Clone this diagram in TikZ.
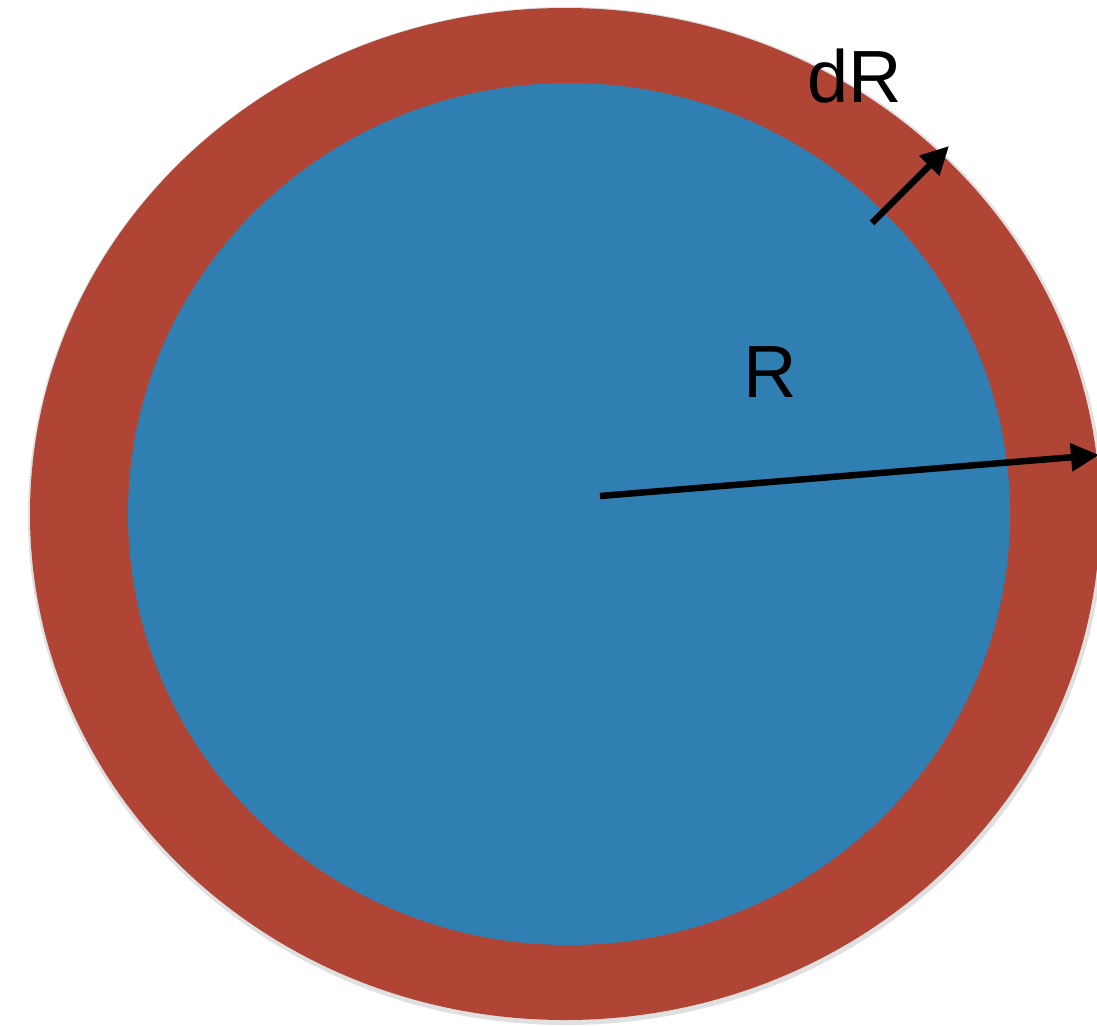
\documentclass[tikz,border=0pt]{standalone}
\usepackage{fontspec}
\setmainfont{Liberation Sans}
\usepackage{xcolor}
\usetikzlibrary{arrows.meta}

\definecolor{shellred}{RGB}{176,69,53}
\definecolor{coreblue}{RGB}{48,127,179}

\begin{document}
\begin{tikzpicture}[
    x=1pt, y=-1pt,
    shell/.style={fill=shellred, draw=none},
    core/.style={fill=coreblue, draw=none},
    arrow/.style={-{Triangle[length=28pt, width=27pt]}, line width=6.5pt, black},
    label/.style={font=\fontsize{74}{80}\selectfont, inner sep=0pt}
]
\useasboundingbox (0,0) rectangle (1097,1025);

% Kugelschale und Kern
\begin{scope}
  \clip (0,0) rectangle (1097,1025);
  \fill[black!35, opacity=0.35] (566,516) ellipse [x radius=538, y radius=509];
  \fill[shell] (565,514) ellipse [x radius=535, y radius=506];
\end{scope}
\fill[core] (569,514) ellipse [x radius=441, y radius=431];

% Punkte
\coordinate (centre) at (600,496);
\coordinate (rim) at (1099,455);
\coordinate (inner) at (872,223);
\coordinate (outer) at (949,146);

% Beschriftungen
\node[label] (dr) at (855,76) {dR};
\node[label] (r) at (770,372) {R};

% Pfeile
\draw[arrow] (centre) -- (rim);
\draw[arrow] (inner) -- (outer);

\end{tikzpicture}
\end{document}
